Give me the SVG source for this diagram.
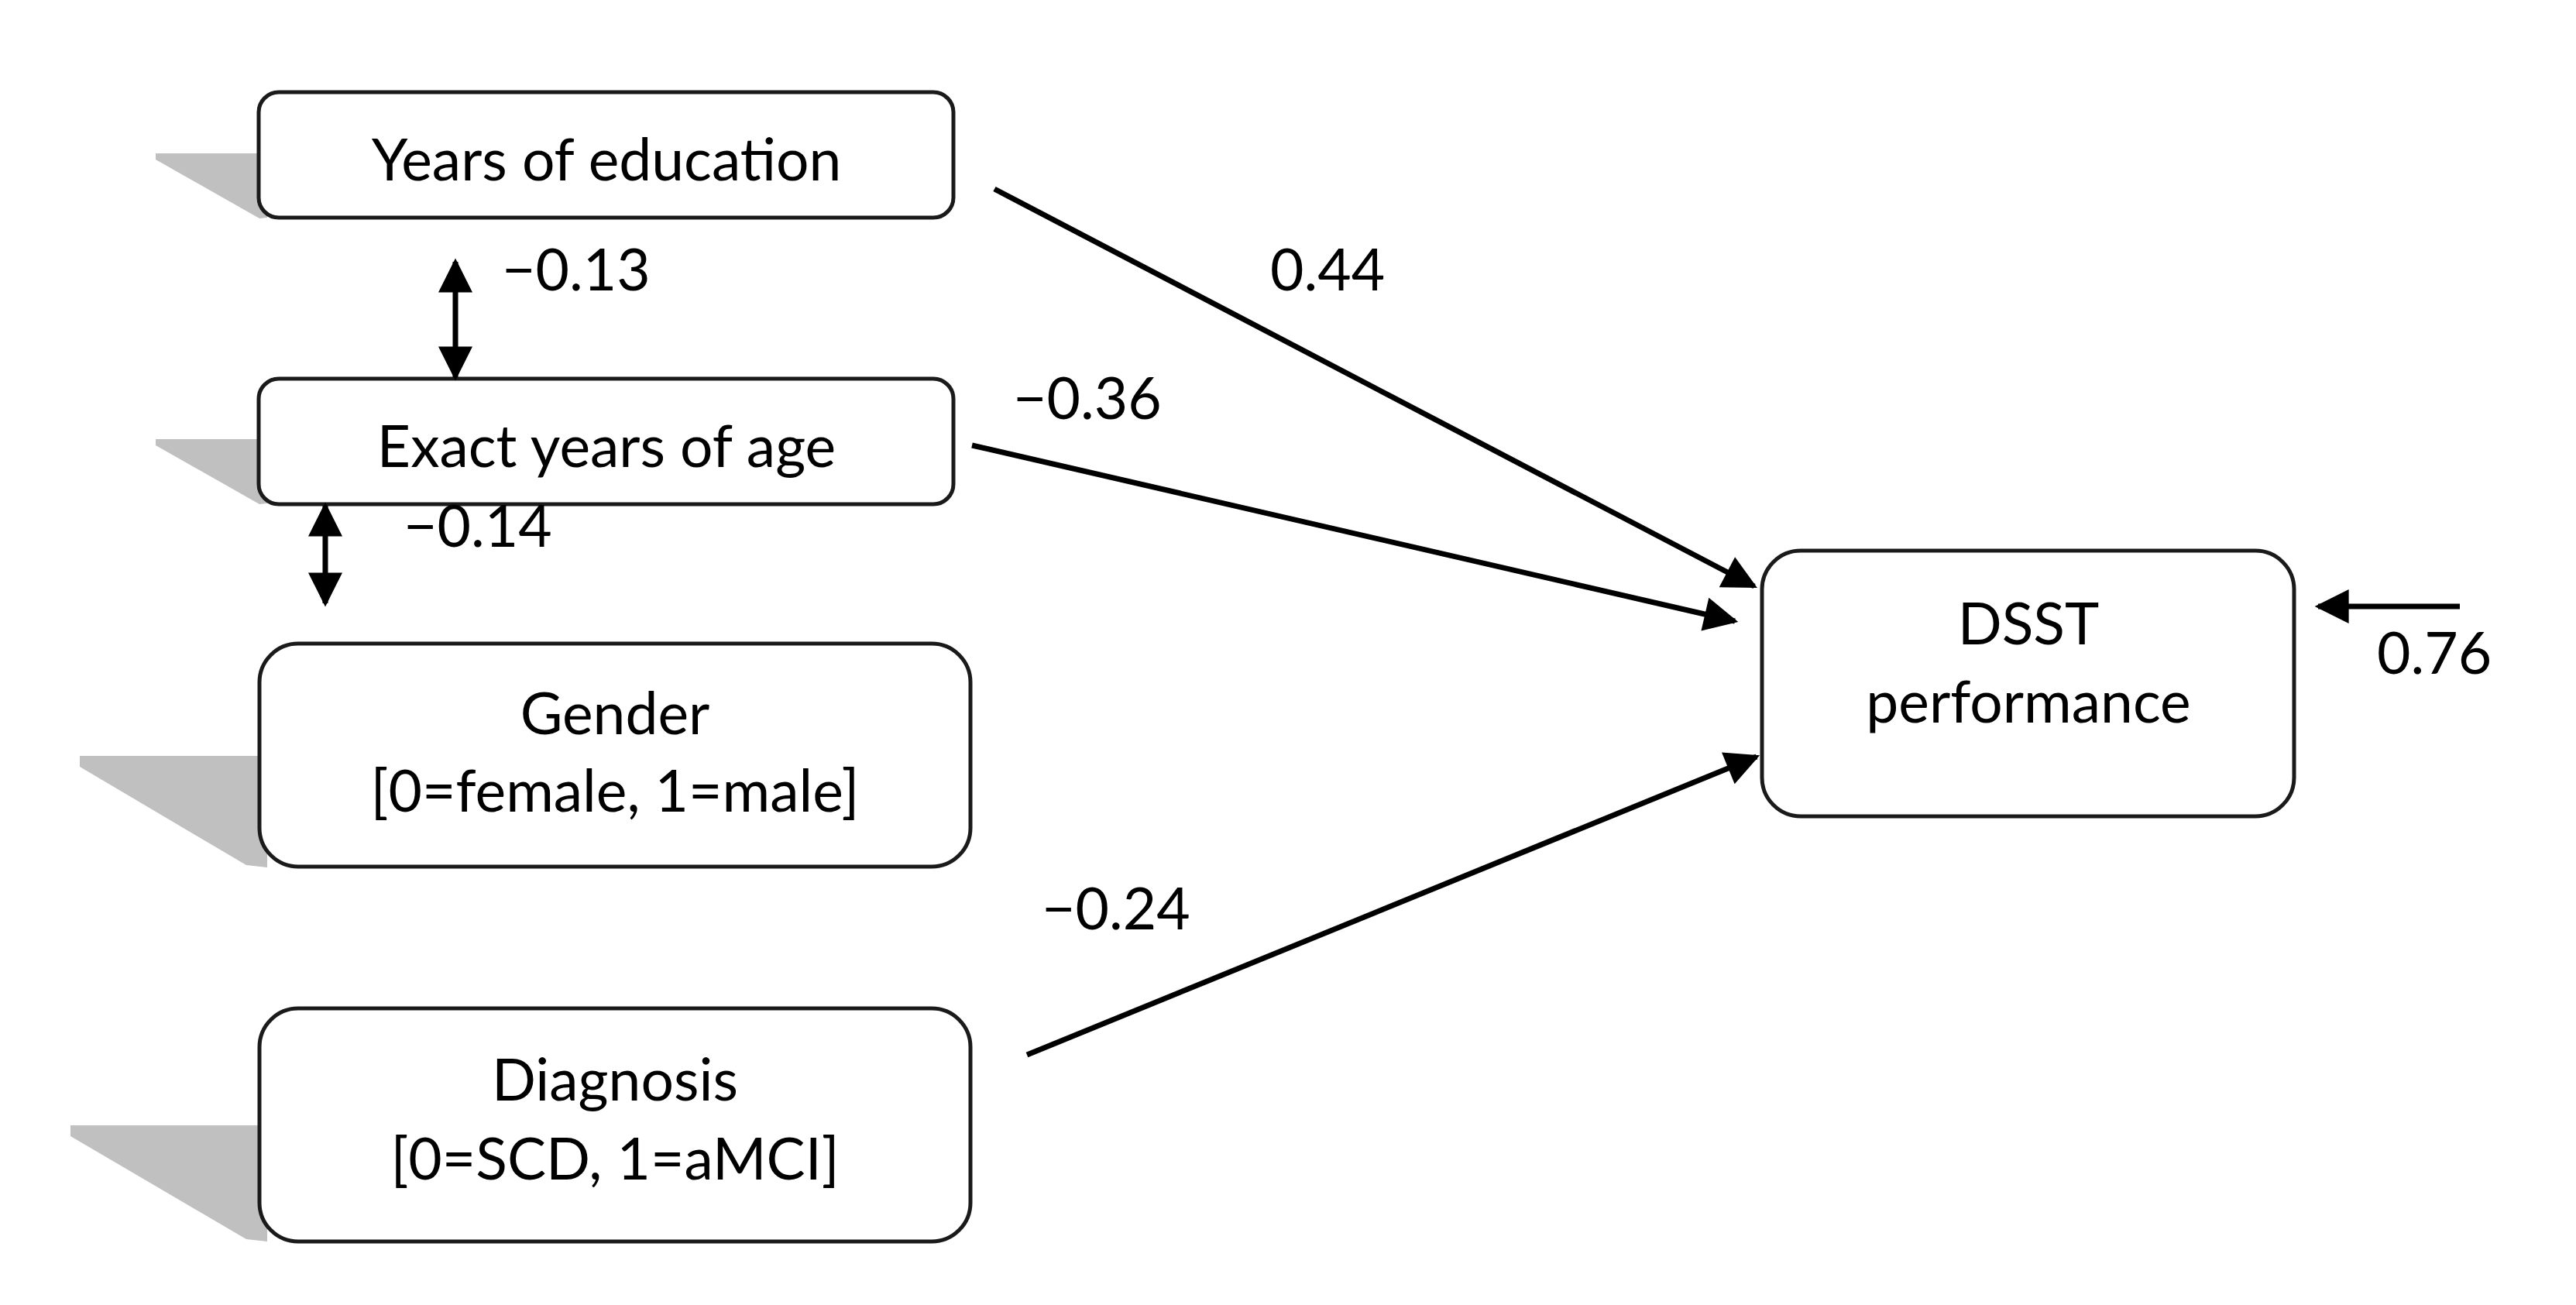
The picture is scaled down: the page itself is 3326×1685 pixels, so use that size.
<svg xmlns="http://www.w3.org/2000/svg" width="3326" height="1685" viewBox="0 0 3326 1685">
  <style>
    .box { fill: #ffffff; stroke: #1a1a1a; stroke-width: 5; }
    .shadow { fill: #c0c0c0; stroke: none; }
    .t { font-family: Lato, "Open Sans", "Liberation Sans", sans-serif; font-size: 75px; fill: #000; text-anchor: middle; }
    .lbl { font-family: Lato, "Open Sans", "Liberation Sans", sans-serif; font-size: 75px; fill: #000; }
    .conn { stroke: #000; stroke-width: 7; fill: none; }
  </style>
  <defs>
    <marker id="ah" viewBox="0 0 10 10" refX="9" refY="5" markerUnits="userSpaceOnUse" markerWidth="46" markerHeight="44" orient="auto-start-reverse">
      <path d="M0,0 L10,5 L0,10 Z" fill="#000"/>
    </marker>
  </defs>
  <rect width="3326" height="1685" fill="#ffffff"/>

  <g id="node-education">
    <polygon class="shadow" points="201,198 345,198 345,281 335,282 201,206"/>
    <rect class="box" x="334" y="119" width="897" height="162" rx="26" ry="26"/>
    <text class="t" x="783" y="233">Years of education</text>
  </g>

  <g id="node-age">
    <polygon class="shadow" points="201,567 345,567 345,650 335,651 201,575"/>
    <rect class="box" x="334" y="489" width="897" height="162" rx="26" ry="26"/>
    <text class="t" x="783" y="603">Exact years of age</text>
  </g>

  <g id="node-gender">
    <polygon class="shadow" points="103,976 345,976 345,1120 318,1117 103,990"/>
    <rect class="box" x="335" y="831" width="918" height="288" rx="50" ry="50"/>
    <text class="t" x="794" y="948">Gender</text>
    <text class="t" x="794" y="1048">[0=female, 1=male]</text>
  </g>

  <g id="node-diagnosis">
    <polygon class="shadow" points="91,1453 345,1453 345,1603 318,1600 91,1467"/>
    <rect class="box" x="335" y="1302" width="918" height="301" rx="50" ry="50"/>
    <text class="t" x="794" y="1421">Diagnosis</text>
    <text class="t" x="794" y="1523">[0=SCD, 1=aMCI]</text>
  </g>

  <g id="node-dsst">
    <rect class="box" x="2275" y="711" width="687" height="343" rx="50" ry="50"/>
    <text class="t" x="2619" y="832">DSST</text>
    <text class="t" x="2619" y="933">performance</text>
  </g>

  <g id="connectors">
    <line class="conn" x1="588" y1="338" x2="588" y2="487" marker-start="url(#ah)" marker-end="url(#ah)"/>
    <line class="conn" x1="420" y1="653" x2="420" y2="779" marker-start="url(#ah)" marker-end="url(#ah)"/>
    <line class="conn" x1="1284" y1="244" x2="2265" y2="757" marker-end="url(#ah)"/>
    <line class="conn" x1="1255" y1="575" x2="2240" y2="802" marker-end="url(#ah)"/>
    <line class="conn" x1="1326" y1="1362" x2="2268" y2="977" marker-end="url(#ah)"/>
    <line class="conn" x1="3176" y1="783" x2="2993" y2="783" marker-end="url(#ah)"/>
  </g>

  <g id="labels">
    <text class="lbl" x="648" y="375">−0.13</text>
    <text class="lbl" x="521" y="706">−0.14</text>
    <text class="lbl" x="1640" y="375">0.44</text>
    <text class="lbl" x="1308" y="541">−0.36</text>
    <text class="lbl" x="1345" y="1200">−0.24</text>
    <text class="lbl" x="3069" y="870">0.76</text>
  </g>
</svg>
